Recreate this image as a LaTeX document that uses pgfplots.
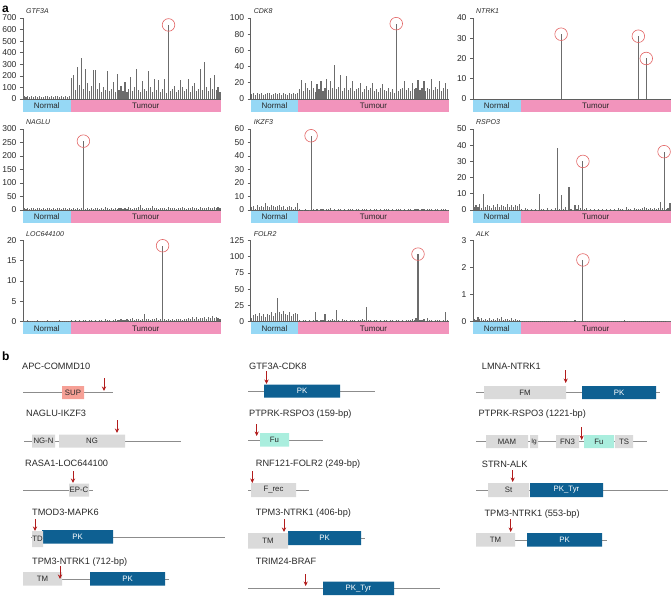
\documentclass[border=0pt]{standalone}
\usepackage{pgfplots}
\pgfplotsset{compat=1.18}
\usepackage{fontspec}
\setmainfont{Liberation Sans}
\usetikzlibrary{arrows.meta}
\definecolor{barc}{RGB}{108,108,108}
\definecolor{axc}{RGB}{95,95,95}
\definecolor{normalc}{RGB}{150,216,245}
\definecolor{tumourc}{RGB}{242,148,188}
\definecolor{circc}{RGB}{226,100,100}
\definecolor{pkc}{RGB}{14,96,146}
\definecolor{fuc}{RGB}{170,238,222}
\definecolor{domc}{RGB}{218,218,218}
\definecolor{supc}{RGB}{246,160,150}
\definecolor{linec}{RGB}{140,140,140}
\definecolor{arrc}{RGB}{178,28,28}
\definecolor{txtc}{RGB}{40,40,40}
\pgfplotsset{panela/.style={width=198pt, height=81pt, scale only axis,
  xmin=0.5, xmax=100.5, ymin=0, axis lines*=left,
  axis line style={draw=axc, line width=0.6pt}, tick style={draw=axc, line width=0.6pt},
  tick align=outside, major tick length=3pt, xtick=\empty, clip=false,
  tick label style={font=\fontsize{8.5}{9}\selectfont, text=txtc},
  /pgf/number format/assume math mode=true}}
\newcommand{\band}{%
  \fill[normalc] (rel axis cs:0,-0.012) rectangle (rel axis cs:0.24,-0.16);
  \fill[tumourc] (rel axis cs:0.24,-0.012) rectangle (rel axis cs:1,-0.16);
  \node[font=\fontsize{8}{9}\selectfont, text=txtc] at (rel axis cs:0.12,-0.086) {Normal};
  \node[font=\fontsize{8}{9}\selectfont, text=txtc] at (rel axis cs:0.62,-0.086) {Tumour};}
\newcommand{\gname}[1]{\node[anchor=base west, font=\fontsize{7}{8}\selectfont\itshape, inner sep=0pt, text=txtc] at (rel axis cs:0.015,1.05) {#1};}
\newcommand{\bars}[1]{\addplot[ycomb, draw=barc, line width=1.1pt, no markers] table[row sep=\\, header=false, x expr=\coordindex+1, y index=0] {#1};}
\newcommand{\circs}[1]{\addplot[only marks, mark=o, mark size=6.3pt, mark options={draw=circc, line width=0.6pt}] coordinates {#1};}
% panel b helpers
\newcommand{\btitle}[3]{\node[anchor=base west, inner sep=0pt, font=\fontsize{9.2}{10}\selectfont, text=txtc] at (axis cs:#1,#2) {#3};}
\newcommand{\bline}[3]{\addplot[linec, line width=0.8pt] coordinates {(#1,#3) (#2,#3)};}
\newcommand{\gbox}[6]{\addplot[fill=#5, draw=none] coordinates {(#1,#3) (#2,#3) (#2,#4) (#1,#4) (#1,#3)};
  \path (axis cs:#1,#3) -- (axis cs:#2,#4) node[midway, inner sep=0pt, font=\fontsize{7.8}{9}\selectfont, text=txtc] {#6};}
\newcommand{\pkbox}[5]{\addplot[fill=pkc, draw=none] coordinates {(#1,#3) (#2,#3) (#2,#4) (#1,#4) (#1,#3)};
  \path (axis cs:#1,#3) -- (axis cs:#2,#4) node[midway, inner sep=0pt, font=\fontsize{7.8}{9}\selectfont, text=white] {#5};}
\newcommand{\barrow}[3]{\addplot[arrc, line width=1pt, -{Stealth[length=4.5pt,width=4.2pt]}] coordinates {(#1,#2) (#1,#3)};}
\begin{document}
\begin{tikzpicture}[x=1pt,y=1pt]
\path[use as bounding box] (0,0) rectangle (672,595);
\node[anchor=base west, font=\bfseries\fontsize{12}{12}\selectfont, inner sep=0pt] at (2,582) {a};
\node[anchor=base west, font=\bfseries\fontsize{12}{12}\selectfont, inner sep=0pt] at (2,234) {b};
% ---------- row 1 ----------
\begin{axis}[panela, at={(23pt,496pt)}, anchor=south west, ymax=700, ytick={0,100,...,700}]
\bars{22\\18\\25\\20\\28\\15\\24\\19\\26\\21\\17\\27\\23\\20\\25\\18\\22\\26\\19\\24\\21\\28\\17\\23\\
180\\210\\80\\280\\120\\350\\90\\260\\140\\70\\
110\\250\\250\\90\\140\\60\\100\\80\\245\\70\\
90\\150\\60\\220\\80\\110\\70\\145\\60\\90\\
190\\70\\100\\260\\80\\60\\155\\90\\70\\240\\
100\\60\\170\\80\\165\\60\\90\\175\\50\\640\\
70\\90\\110\\60\\80\\160\\100\\70\\90\\175\\
60\\110\\140\\70\\90\\260\\80\\320\\100\\70\\
185\\90\\210\\80\\100\\60\\}
\circs{(74,640)}
\band \gname{GTF3A}
\end{axis}
\begin{axis}[panela, at={(250.7pt,496pt)}, anchor=south west, ymax=100, ytick={0,20,...,100}]
\bars{6\\7\\5\\8\\6\\7\\5\\6\\8\\7\\5\\6\\7\\6\\8\\5\\7\\6\\5\\7\\6\\8\\6\\7\\
12\\24\\10\\20\\14\\11\\22\\13\\9\\18\\
12\\22\\10\\14\\25\\11\\22\\13\\42\\12\\
15\\30\\10\\14\\28\\11\\13\\22\\10\\12\\
14\\20\\9\\12\\16\\11\\13\\20\\10\\12\\
9\\14\\18\\11\\10\\14\\9\\12\\8\\93\\
10\\12\\14\\22\\11\\13\\10\\20\\12\\14\\
24\\11\\13\\22\\10\\14\\12\\25\\11\\15\\
12\\22\\10\\14\\20\\12\\}
\circs{(74,93)}
\band \gname{CDK8}
\end{axis}
\begin{axis}[panela, at={(473pt,496pt)}, anchor=south west, ymax=40, ytick={0,10,...,40}]
\addplot[ycomb, draw=barc, line width=1.1pt, no markers] coordinates {(45,32) (84,31) (88,20)};
\circs{(45,32) (84,31) (88,20)}
\band \gname{NTRK1}
\end{axis}
% ---------- row 2 ----------
\begin{axis}[panela, at={(23pt,385pt)}, anchor=south west, ymax=300, ytick={0,50,...,300}]
\bars{6\\5\\8\\4\\7\\6\\5\\9\\6\\4\\7\\5\\8\\6\\5\\7\\4\\6\\8\\5\\7\\6\\5\\8\\
5\\7\\4\\6\\5\\8\\255\\5\\6\\4\\
7\\5\\8\\6\\4\\9\\5\\12\\6\\5\\
7\\4\\6\\5\\8\\6\\4\\7\\5\\10\\
6\\5\\8\\6\\12\\20\\7\\5\\9\\6\\
8\\15\\6\\7\\5\\9\\6\\8\\5\\10\\
7\\6\\9\\5\\8\\6\\10\\7\\5\\9\\
6\\12\\7\\8\\5\\10\\7\\9\\6\\11\\
8\\7\\10\\6\\12\\8\\}
\circs{(31,255)}
\band \gname{NAGLU}
\end{axis}
\begin{axis}[panela, at={(250.7pt,385pt)}, anchor=south west, ymax=60, ytick={0,10,...,60}]
\bars{2\\3\\1\\4\\2\\3\\2\\5\\3\\2\\4\\3\\2\\3\\4\\2\\3\\1\\2\\3\\2\\1\\2\\5\\
0.5\\0\\0.3\\0.6\\0\\0.3\\55\\0.4\\0\\0.8\\
0.3\\1\\0.5\\0.2\\0.9\\0.4\\1.5\\0.3\\0.6\\0.2\\
0.8\\1\\0.3\\0.6\\0.2\\0.9\\0.4\\0.7\\0.3\\1\\
0.5\\0.2\\0.8\\0.4\\0.6\\0.3\\0.9\\0.2\\0.5\\0.8\\
0.3\\0.6\\0.2\\0.7\\0.4\\0.9\\0.3\\0.5\\0.2\\0.8\\
0.4\\0.6\\0.3\\0.7\\0.2\\0.5\\0.8\\0.3\\0.6\\0.4\\
0.9\\0.2\\0.5\\0.7\\0.3\\0.6\\0.4\\0.8\\0.2\\0.5\\
0.7\\0.3\\0.6\\0.4\\0.5\\0.3\\}
\circs{(31,55)}
\band \gname{IKZF3}
\end{axis}
\begin{axis}[panela, at={(473pt,385pt)}, anchor=south west, ymax=50, ytick={0,10,...,50}]
\bars{2\\3\\2\\4\\1.5\\10\\2\\3\\2.5\\1.5\\3\\2\\4\\2\\3\\2.5\\2\\3.5\\2\\3\\2\\3\\2.5\\4\\
0.5\\0.3\\1\\0.4\\0.2\\0.8\\0.3\\0.5\\0.2\\10\\
0.4\\0.8\\0.3\\1\\0.2\\0.5\\0.3\\1.2\\38\\0.5\\
9\\0.4\\2\\0.3\\14\\0.5\\0.3\\3\\0.5\\3\\
1.5\\30\\0.5\\1\\0.3\\0.6\\0.2\\0.8\\0.3\\0.5\\
0.2\\0.4\\0.3\\0.6\\0.2\\0.5\\0.3\\0.8\\0.2\\1\\
0.4\\0.6\\0.3\\2\\0.5\\0.8\\0.3\\1.2\\0.5\\0.9\\
0.4\\1\\2\\1.2\\0.6\\1\\0.5\\1.5\\0.8\\1\\
5\\1.2\\36\\0.8\\1.5\\4.5\\}
\circs{(56,30) (97,36)}
\band \gname{RSPO3}
\end{axis}
% ---------- row 3 ----------
\begin{axis}[panela, at={(23pt,273.5pt)}, anchor=south west, ymax=20, ytick={0,5,...,20}]
\bars{0.2\\0.1\\0.3\\0.1\\0.2\\0.1\\0.2\\0.3\\0.1\\0.2\\0.1\\0.2\\0.3\\0.1\\0.2\\0.1\\0.2\\0.1\\0.3\\0.2\\0.1\\0.2\\0.1\\0.2\\
0.3\\0.2\\0.4\\0.2\\0.3\\0.2\\0.4\\0.3\\0.2\\0.3\\
0.4\\0.2\\0.3\\0.2\\0.4\\0.3\\0.2\\0.5\\0.3\\0.4\\
0.2\\0.3\\0.5\\0.3\\0.4\\0.6\\0.3\\0.4\\0.5\\0.3\\
0.6\\0.8\\0.4\\0.5\\0.7\\0.4\\0.6\\1.8\\0.5\\0.7\\
0.4\\0.6\\0.5\\0.8\\0.4\\0.6\\18.7\\0.5\\0.4\\0.6\\
0.3\\0.5\\0.4\\0.6\\0.5\\0.7\\0.4\\0.6\\0.5\\0.8\\
0.6\\1.1\\0.7\\1\\0.6\\0.9\\0.8\\1.2\\0.7\\1\\
0.9\\1.3\\0.8\\1.1\\0.9\\0.5\\}
\circs{(71,18.7)}
\band \gname{LOC644100}
\end{axis}
\begin{axis}[panela, at={(250.7pt,273.5pt)}, anchor=south west, ymax=125, ytick={0,25,...,125}]
\bars{5\\10\\12\\8\\13\\9\\11\\7\\12\\10\\14\\9\\13\\37\\15\\11\\16\\12\\10\\14\\9\\11\\13\\12\\
2\\1\\3\\2\\1\\2\\1.5\\3\\15\\2\\
1\\3\\2\\12\\1\\3\\2\\4\\2\\18\\
3\\1\\4\\2\\3\\1\\2\\3\\2\\1\\
3\\2\\4\\2\\23\\2\\3\\1\\2\\3\\
1\\2\\1.5\\3\\2\\1\\3\\2\\1\\2\\
3\\1\\2\\1.5\\3\\2\\3\\4\\2\\5\\
104\\3\\2\\4\\1\\6\\2\\3\\1\\2\\
3\\2\\1\\3\\14\\2\\}
\circs{(85,104)}
\band \gname{FOLR2}
\end{axis}
\begin{axis}[panela, at={(473pt,273.5pt)}, anchor=south west, ymax=3, ytick={0,1,2,3}]
\bars{0.1\\0.05\\0.15\\0.08\\0.12\\0.06\\0.1\\0.04\\0.14\\0.07\\0.1\\0.05\\0.12\\0.08\\0.15\\0.06\\0.1\\0.09\\0.05\\0.13\\0.07\\0.1\\0.06\\0.04\\
0.02\\0.01\\0.03\\0.01\\0.02\\0.01\\0.02\\0.03\\0.01\\0.02\\
0.01\\0.02\\0.01\\0.03\\0.02\\0.01\\0.02\\0.01\\0.03\\0.02\\
0.01\\0.02\\0.03\\0.01\\0.02\\0.01\\0.02\\0.04\\0.01\\0.02\\
0.01\\2.28\\0.02\\0.01\\0.03\\0.02\\0.01\\0.02\\0.01\\0.02\\
0.03\\0.01\\0.02\\0.01\\0.02\\0.03\\0.01\\0.02\\0.01\\0.02\\
0.01\\0.02\\0.04\\0.01\\0.02\\0.01\\0.03\\0.02\\0.01\\0.02\\
0.01\\0.02\\0.01\\0.03\\0.02\\0.01\\0.02\\0.01\\0.02\\0.03\\
0.01\\0.02\\0.01\\0.02\\0.03\\0.02\\}
\circs{(56,2.28)}
\band \gname{ALK}
\end{axis}
% ---------- panel b ----------
\begin{axis}[at={(0pt,0pt)}, anchor=south west, width=672pt, height=240pt, scale only axis,
  xmin=0, xmax=672, ymin=355, ymax=595, y dir=reverse, hide axis, clip=false]
% column 1
\btitle{22}{369}{APC-COMMD10}
\bline{23}{113}{392.5}
\gbox{62}{84}{386}{399}{supc}{SUP}
\barrow{104}{378}{391}
\btitle{26}{416.5}{NAGLU-IKZF3}
\bline{24}{181}{441}
\gbox{32}{55}{434.5}{447.5}{domc}{NG-N}
\gbox{59}{125}{434.5}{447.5}{domc}{NG}
\barrow{117}{420}{433}
\btitle{25}{466.5}{RASA1-LOC644100}
\bline{23}{93}{490}
\gbox{69}{89}{483.5}{496.5}{domc}{EP-C}
\barrow{73}{471}{483}
\btitle{32}{515}{TMOD3-MAPK6}
\bline{31}{225}{537}
\pkbox{42}{113}{530}{543.5}{PK}
\gbox{32}{43}{531}{547}{domc}{TD}
\barrow{35}{519}{531}
\btitle{32}{564.5}{TPM3-NTRK1 (712-bp)}
\bline{23}{169}{579}
\gbox{23}{62}{572}{585.5}{domc}{TM}
\pkbox{90}{165}{572}{585.5}{PK}
\barrow{60}{566}{579}
% column 2
\btitle{249}{369}{GTF3A-CDK8}
\bline{248}{375}{391}
\pkbox{264}{340}{384.5}{397.5}{PK}
\barrow{266.5}{371}{384}
\btitle{249}{416.5}{PTPRK-RSPO3 (159-bp)}
\bline{248}{323}{440}
\gbox{260}{289}{433}{446.5}{fuc}{Fu}
\barrow{256.7}{424}{436}
\btitle{255.7}{466.5}{RNF121-FOLR2 (249-bp)}
\bline{248}{309}{490}
\gbox{251}{296}{483}{497}{domc}{F\_rec}
\barrow{252.3}{471}{483}
\btitle{255.7}{515.5}{TPM3-NTRK1 (406-bp)}
\bline{248}{365}{538.5}
\pkbox{288}{361}{531}{545}{PK}
\gbox{248}{288}{533}{548.5}{domc}{TM}
\barrow{284}{519}{532}
\btitle{255.7}{564.5}{TRIM24-BRAF}
\bline{248}{440}{588}
\pkbox{323}{394}{581.5}{595}{PK\_Tyr}
\barrow{305.7}{574}{586}
% column 3
\btitle{481.7}{369}{LMNA-NTRK1}
\bline{476}{660}{392.5}
\gbox{484}{566}{386}{399}{domc}{FM}
\pkbox{582}{656}{386}{399}{PK}
\barrow{565.7}{370}{383}
\btitle{478.3}{416.5}{PTPRK-RSPO3 (1221-bp)}
\bline{476}{647}{441.5}
\gbox{486}{528}{435}{448}{domc}{MAM}
\gbox{530}{538}{435}{448}{domc}{{\fontsize{6.5}{7}\selectfont Ig}}
\gbox{556}{579}{435}{448}{domc}{FN3}
\gbox{584}{614}{435}{448}{fuc}{Fu}
\gbox{615}{633}{435}{448}{domc}{TS}
\barrow{581.7}{427}{440}
\btitle{481.7}{467}{STRN-ALK}
\bline{476}{668}{490}
\gbox{488}{529}{483}{497}{domc}{St}
\pkbox{530}{603}{483}{497}{PK\_Tyr}
\barrow{512.7}{470}{482}
\btitle{484.3}{516.5}{TPM3-NTRK1 (553-bp)}
\bline{476}{607}{540}
\gbox{476}{515}{533}{546.5}{domc}{TM}
\pkbox{527}{602}{533}{546.5}{PK}
\barrow{510.7}{519}{532}
\end{axis}
\end{tikzpicture}
\end{document}
